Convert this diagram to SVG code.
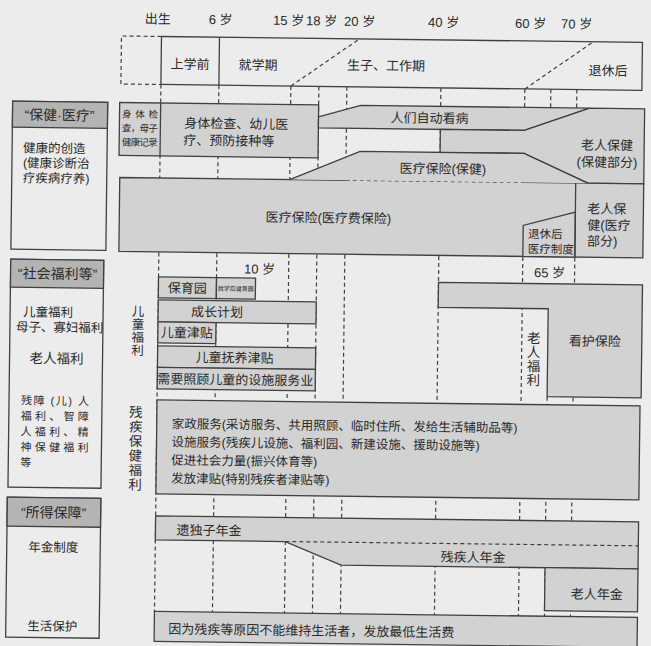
<svg xmlns="http://www.w3.org/2000/svg" width="651" height="646" viewBox="0 0 651 646">
<style>
.t{font-family:"Liberation Sans","Noto Sans CJK SC",sans-serif;font-size:13px;fill:#2a2a2a;dominant-baseline:central}
.m{text-anchor:middle}
.s{fill:#d2d2d2;stroke:#404040;stroke-width:1.3;stroke-linejoin:miter}
.f{fill:#d2d2d2;stroke:none}
.o{fill:none;stroke:#404040;stroke-width:1.3}
.h{fill:#b4b4b4;stroke:#404040;stroke-width:1.3}
.w{fill:none;stroke:#404040;stroke-width:1.3}
.d{fill:none;stroke:#404040;stroke-width:1.2;stroke-dasharray:4 3}
</style>
<rect x="0" y="0" width="651" height="646" fill="#ececec"/>
<g transform="rotate(0.7 325 323)">
<g id="gridlines" class="d">
<path d="M158,86.5V613.5M216,86.5V613.5M288,86.5V613.5M316,86.5V613.5M344,86.5V613.5M438,86.5V613.5M522,86.5V613.5M548,86.5V254M548,394V613.5M574,86.5V613.5"/>
</g>

<g id="timeline">
<text class="t m" x="154" y="21">出生</text>
<text class="t m" x="217" y="21">6 岁</text>
<text class="t m" x="285" y="21">15 岁</text>
<text class="t m" x="318" y="21">18 岁</text>
<text class="t m" x="356" y="21">20 岁</text>
<text class="t m" x="440" y="21">40 岁</text>
<text class="t m" x="527" y="21">60 岁</text>
<text class="t m" x="573" y="21">70 岁</text>
<path class="d" d="M158,38.5H118V86.5H158"/>
<rect class="w" x="158" y="38.5" width="481" height="48"/>
<path class="w" d="M216,38.5V86.5"/>
<path class="d" d="M288,86.5L356,38.5M522,86.5L590,38.5"/>
<text class="t m" x="187" y="66">上学前</text>
<text class="t m" x="255" y="66">就学期</text>
<text class="t m" x="383" y="65">生子、工作期</text>
<text class="t m" x="605" y="67.5">退休后</text>
</g>

<g id="cat-health">
<rect class="o" x="10" y="105" width="95" height="148"/>
<rect class="h" x="10" y="105" width="95" height="26"/>
<text class="t m" x="57" y="118.5" style="font-size:14px">“保健·医疗”</text>
<text class="t" style="font-size:12.5px"><tspan x="21" y="152">健康的创造</tspan><tspan x="21" y="167">(健康诊断治</tspan><tspan x="21" y="182">疗疾病疗养)</tspan></text>
</g>

<g id="checkup">
<rect class="s" x="117" y="105" width="199" height="53"/>
<path class="w" d="M158,105V158"/>
<text class="t" style="font-size:9.5px"><tspan x="119.5" y="116" textLength="36" lengthAdjust="spacing">身体检</tspan><tspan x="119.5" y="130" textLength="36" lengthAdjust="spacing">查，母子</tspan><tspan x="119.5" y="144" textLength="36" lengthAdjust="spacing">健康记录</tspan></text>
<text class="t"><tspan x="182" y="124.5">身体检查、幼儿医</tspan><tspan x="181" y="141.5">疗、预防接种等</tspan></text>
</g>

<g id="self-care">
<polygon class="s" points="316,117 358,105 587,105 522,128 316,128"/>
<text class="t m" x="427" y="117">人们自动看病</text>
</g>

<g id="elder-health">
<polygon class="s" points="587,105 642,105 642,180 586,180 522,151 438,151 438,128 522,128"/>
<text class="t m"><tspan x="605" y="141.5">老人保健</tspan><tspan x="605" y="158.5">(保健部分)</tspan></text>
</g>

<g id="medical-insurance">
<rect class="f" x="118" y="180" width="524" height="74"/>
<path class="w" d="M344,180H118V254H642V180H522"/>
<path class="d" d="M344,180H522"/>
<text class="t m" x="327" y="218">医疗保险(医疗费保险)</text>
</g>

<g id="health-insurance">
<polygon class="f" points="288,180 358,151 522,151 586,180"/>
<path class="w" d="M288,180L358,151H522L586,180"/>
<text class="t m" x="441" y="167.5">医疗保险(保健)</text>
</g>

<g id="retire-medical">
<polygon class="s" points="522,254 522,223 574,209 574,254"/>
<text class="t" style="font-size:11.5px"><tspan x="527" y="231.5">退休后</tspan><tspan x="527" y="246.5">医疗制度</tspan></text>
</g>

<g id="elder-medical">
<path class="w" d="M574,180V254"/>
<text class="t"><tspan x="586" y="205">老人保</tspan><tspan x="586" y="221.5">健(医疗</tspan><tspan x="586" y="237.5">部分)</tspan></text>
</g>

<g id="cat-welfare">
<rect class="o" x="10" y="263" width="93" height="228"/>
<rect class="h" x="10" y="263" width="93" height="28"/>
<text class="t m" x="57" y="277" style="font-size:14px">“社会福利等”</text>
<text class="t" style="font-size:12.5px"><tspan x="23" y="316">儿童福利</tspan><tspan x="16" y="331">母子、寡妇福利</tspan></text>
<text class="t m" x="57" y="362" style="font-size:13.5px">老人福利</text>
<text class="t" style="font-size:11px"><tspan x="22" y="404" textLength="68" lengthAdjust="spacing">残障 (儿) 人</tspan><tspan x="22" y="419.5" textLength="68" lengthAdjust="spacing">福利、智障</tspan><tspan x="22" y="435" textLength="68" lengthAdjust="spacing">人福利、精</tspan><tspan x="22" y="450.5" textLength="68" lengthAdjust="spacing">神保健福利</tspan><tspan x="22" y="466">等</tspan></text>
</g>

<g id="child-welfare">
<text class="t m" style="font-size:12.5px"><tspan x="138" y="314">儿</tspan><tspan x="138" y="327">童</tspan><tspan x="138" y="340">福</tspan><tspan x="138" y="353">利</tspan></text>
<text class="t m" x="259" y="270">10 岁</text>
<rect class="s" x="158" y="279" width="58" height="21"/>
<text class="t m" x="187" y="290">保育园</text>
<rect class="s" x="216" y="279" width="39" height="21"/>
<text class="t m" x="235.5" y="290" style="font-size:6px">就学后健育园</text>
<rect class="s" x="158" y="302" width="158" height="22"/>
<text class="t m" x="217" y="313.5">成长计划</text>
<rect class="s" x="158" y="324" width="58" height="21"/>
<text class="t m" x="187" y="334.5">儿童津贴</text>
<rect class="s" x="158" y="348" width="158" height="21.5"/>
<text class="t m" x="235" y="359">儿童抚养津贴</text>
<rect class="s" x="158" y="369.5" width="158" height="21.5"/>
<text class="t m" x="236" y="381">需要照顾儿童的设施服务业</text>
</g>

<g id="care-insurance">
<text class="t m" x="549" y="270">65 岁</text>
<polygon class="s" points="438,281 642,281 642,394 548,394 548,306 438,306"/>
<text class="t m" x="595" y="338">看护保险</text>
<text class="t m" style="font-size:13.5px"><tspan x="534" y="335.5">老</tspan><tspan x="534" y="349.5">人</tspan><tspan x="534" y="363.5">福</tspan><tspan x="534" y="377.5">利</tspan></text>
</g>

<g id="disability-welfare">
<text class="t m" style="font-size:13.5px"><tspan x="137" y="414.5">残</tspan><tspan x="137" y="429">疾</tspan><tspan x="137" y="443.5">保</tspan><tspan x="137" y="458">健</tspan><tspan x="137" y="472.5">福</tspan><tspan x="137" y="487">利</tspan></text>
<rect class="s" x="158" y="402" width="483" height="94"/>
<text class="t" style="font-size:12.5px"><tspan x="173" y="426">家政服务(采访服务、共用照顾、临时住所、发给生活辅助品等)</tspan><tspan x="173" y="444.2">设施服务(残疾儿设施、福利园、新建设施、援助设施等)</tspan><tspan x="173" y="462.4">促进社会力量(振兴体育等)</tspan><tspan x="173" y="480.6">发放津贴(特别残疾者津贴等)</tspan></text>
</g>

<g id="cat-income">
<rect class="o" x="9.5" y="501" width="93.5" height="140"/>
<rect class="h" x="9.5" y="501" width="93.5" height="29"/>
<text class="t m" x="56" y="516" style="font-size:14px">“所得保障”</text>
<text class="t m" x="56" y="551" style="font-size:12.5px">年金制度</text>
<text class="t m" x="56" y="630" style="font-size:12.5px">生活保护</text>
</g>

<g id="pensions">
<polygon class="s" points="158,518 641,518 641,565 344,565 288,542 158,542"/>
<path class="d" d="M288,542H641"/>
<text class="t" x="179" y="532">遗独子年金</text>
<text class="t m" x="476" y="555.5">残疾人年金</text>
</g>

<g id="old-age-pension">
<rect class="s" x="548" y="565" width="93" height="43"/>
<text class="t m" x="600" y="591">老人年金</text>
</g>

<g id="livelihood">
<rect class="s" x="158" y="613.5" width="483" height="30"/>
<text class="t" x="172" y="631">因为残疾等原因不能维持生活者，发放最低生活费</text>
</g>
</g>
</svg>
